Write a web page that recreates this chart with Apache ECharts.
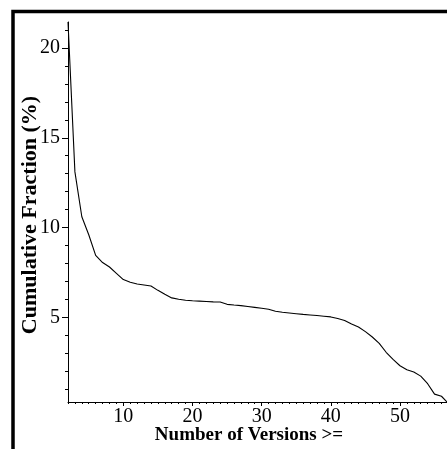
<!DOCTYPE html>
<html>
<head>
<meta charset="utf-8">
<script src="https://cdn.jsdelivr.net/npm/echarts@6/dist/echarts.min.js"></script>
<style>
html,body{margin:0;padding:0;background:#fff;}
#chart{width:447px;height:449px;}
</style>
</head>
<body>
<div id="chart"></div>
<script>
var versions = [2,3,4,5,6,7,8,9,10,11,12,13,14,15,16,17,18,19,20,21,22,23,24,25,26,27,28,29,30,31,32,33,34,35,36,37,38,39,40,41,42,43,44,45,46,47,48,49,50,51,52,53,54,55,56,57];
var fraction = [21.45,13.1,10.6,9.6,8.45,8.05,7.8,7.45,7.1,6.95,6.85,6.8,6.74,6.5,6.28,6.08,6.0,5.95,5.92,5.9,5.88,5.86,5.85,5.72,5.68,5.65,5.6,5.55,5.5,5.45,5.34,5.28,5.24,5.2,5.16,5.13,5.1,5.06,5.02,4.93,4.82,4.62,4.46,4.2,3.9,3.55,3.05,2.65,2.3,2.08,1.95,1.72,1.3,0.72,0.6,0.2];
var xMajorTicks = [10,20,30,40,50];
var xMinorTicks = [2,3,4,5,6,7,8,9,11,12,13,14,15,16,17,18,19,21,22,23,24,25,26,27,28,29,31,32,33,34,35,36,37,38,39,41,42,43,44,45,46,47,48,49,51,52,53,54,55,56];
var yMajorTicks = [5,10,15,20];
var yMinorTicks = [1,2,3,4,6,7,8,9,11,12,13,14,16,17,18,19,21];
var xTitle = 'Number of Versions >=';
var yTitle = 'Cumulative Fraction (%)';

var points = versions.map(function(v,i){return [v, fraction[i]];});
var serif = '"Liberation Serif", "DejaVu Serif", serif';
var xMin = 2, xMax = 56.8, yMin = 0.28, yMax = 21.45;

var chart = echarts.init(document.getElementById('chart'), null, {renderer:'canvas'});
chart.setOption({
  animation: false,
  backgroundColor: '#fff',
  grid: {left: 68, top: 22, right: 0, bottom: 47, containLabel: false},
  xAxis: [{
    type: 'value', min: xMin, max: xMax, position: 'bottom',
    axisLine: {show: true, onZero: false, lineStyle: {color: '#000', width: 1}},
    axisTick: {show: true, customValues: xMajorTicks, length: 4, lineStyle: {color: '#000'}},
    axisLabel: {show: true, customValues: xMajorTicks, margin: 5, color: '#000', fontFamily: serif, fontSize: 20},
    splitLine: {show: false}
  },{
    type: 'value', min: xMin, max: xMax, position: 'bottom',
    axisLine: {show: false, onZero: false},
    axisTick: {show: true, customValues: xMinorTicks, length: 2, lineStyle: {color: '#000'}},
    axisLabel: {show: false},
    splitLine: {show: false}
  }],
  yAxis: [{
    type: 'value', min: yMin, max: yMax, position: 'left',
    axisLine: {show: true, onZero: false, lineStyle: {color: '#000', width: 1}},
    axisTick: {show: true, customValues: yMajorTicks, length: 6, lineStyle: {color: '#000'}},
    axisLabel: {show: true, customValues: yMajorTicks, margin: 8, color: '#000', fontFamily: serif, fontSize: 20},
    splitLine: {show: false}
  },{
    type: 'value', min: yMin, max: yMax, position: 'left',
    axisLine: {show: false, onZero: false},
    axisTick: {show: true, customValues: yMinorTicks, length: 3, lineStyle: {color: '#000'}},
    axisLabel: {show: false},
    splitLine: {show: false}
  }],
  series: [{
    type: 'line', xAxisIndex: 0, yAxisIndex: 0,
    data: points, showSymbol: false, symbol: 'none',
    lineStyle: {color: '#000', width: 1.1},
    clip: true
  }],
  graphic: [
    {type: 'rect', shape: {x: 13, y: 11.5, width: 1000, height: 1000}, style: {fill: 'none', stroke: '#000', lineWidth: 3.5}, silent: true},
    {type: 'text', x: 249, y: 435, style: {text: xTitle, font: 'bold 19px ' + serif, fill: '#000', align: 'center', verticalAlign: 'middle'}},
    {type: 'text', x: 30, y: 215, rotation: Math.PI/2, style: {text: yTitle, font: 'bold 22px ' + serif, fill: '#000', align: 'center', verticalAlign: 'middle'}}
  ]
});
</script>
</body>
</html>
